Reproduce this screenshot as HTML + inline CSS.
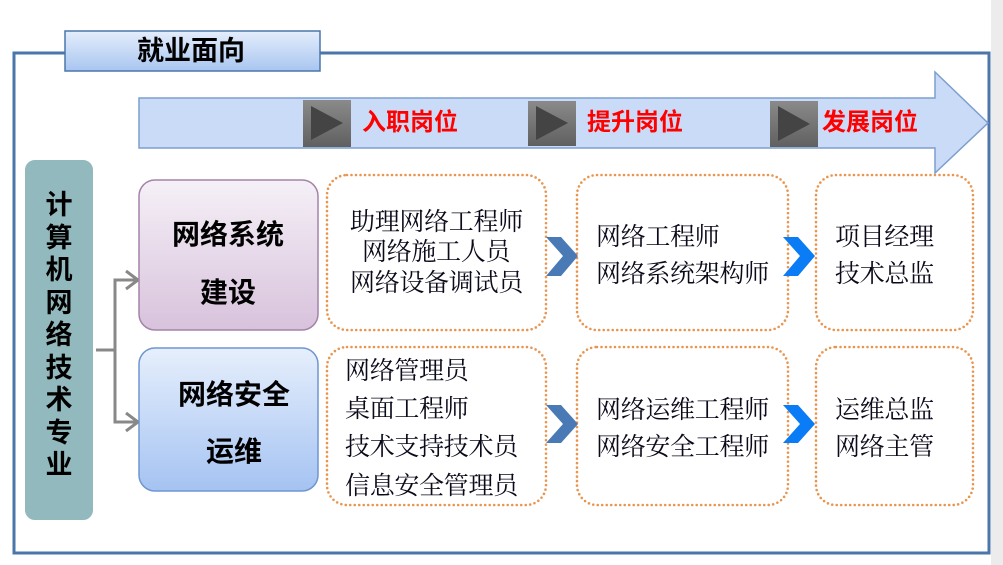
<!DOCTYPE html>
<html><head><meta charset="utf-8"><style>
body{margin:0;width:1003px;height:565px;overflow:hidden;background:#fff;position:relative;font-family:"Liberation Sans","Noto Sans CJK SC",sans-serif}
.a{position:absolute}
.t{position:absolute;white-space:nowrap;line-height:1}
.b{font-weight:bold;color:#000;font-family:"Liberation Sans","Noto Sans CJK SC",sans-serif}
.s{font-family:"Liberation Serif","Noto Serif CJK SC",serif;font-size:25px;color:#0a0a1a;letter-spacing:-0.3px}
.r{font-weight:bold;color:#f00;font-size:24px}
</style></head><body>
<div class="a" style="left:991px;top:0;width:12px;height:565px;background:#ececec"></div>
<svg class="a" style="left:0;top:0" width="1003" height="565">
<defs>
<linearGradient id="tg" x1="0" y1="0" x2="0" y2="1"><stop offset="0" stop-color="#e4eefc"/><stop offset="1" stop-color="#a9c5f0"/></linearGradient>
<linearGradient id="pg" x1="0" y1="0" x2="0" y2="1"><stop offset="0" stop-color="#f5f0f7"/><stop offset="1" stop-color="#d8c2dc"/></linearGradient>
<linearGradient id="bg" x1="0" y1="0" x2="0" y2="1"><stop offset="0" stop-color="#e6effc"/><stop offset="1" stop-color="#a5c3f2"/></linearGradient>
<linearGradient id="gg" x1="0" y1="0" x2="0" y2="1"><stop offset="0" stop-color="#8a8a8a"/><stop offset="1" stop-color="#606060"/></linearGradient>
</defs>
<rect x="14" y="53" width="975" height="500" fill="none" stroke="#4a76aa" stroke-width="3"/>
<rect x="65" y="31" width="255" height="40" fill="url(#tg)" stroke="#4a76aa" stroke-width="1.5"/>
<polygon points="139,98 935,98 935,72 988,123 935,173 935,148 139,148" fill="#c9dbf6" stroke="#7d9fcf" stroke-width="1.5"/>
<g>
<rect x="303" y="100" width="48" height="47" fill="url(#gg)"/><polygon points="311,106 343,123 311,140" fill="#444"/>
<rect x="528" y="101" width="48" height="45" fill="url(#gg)"/><polygon points="536,106 568,123 536,140" fill="#444"/>
<rect x="770" y="101" width="48" height="46" fill="url(#gg)"/><polygon points="778,106 810,124 778,141" fill="#444"/>
</g>
<rect x="23" y="158" width="72" height="364" rx="12" fill="#92b9bd" stroke="#fff" stroke-width="4"/>
<g stroke="#888" stroke-width="3" fill="none">
<path d="M96,350 H115 V280 H138 M115,350 V422 H138"/>
<path d="M126,271 L138,280 L126,289 M126,413 L138,422 L126,431"/>
</g>
<rect x="139" y="180" width="179" height="150" rx="16" fill="url(#pg)" stroke="#a384a8" stroke-width="1.5"/>
<rect x="139" y="348" width="179" height="143" rx="16" fill="url(#bg)" stroke="#6f96cf" stroke-width="1.5"/>
<g fill="none" stroke="#e8954f" stroke-width="2.6" stroke-dasharray="0 4.5" stroke-linecap="round">
<rect x="327" y="175" width="219" height="155" rx="20"/>
<rect x="577" y="175" width="211" height="155" rx="20"/>
<rect x="816" y="175" width="157" height="155" rx="20"/>
<rect x="327" y="347" width="219" height="158" rx="20"/>
<rect x="577" y="347" width="211" height="158" rx="20"/>
<rect x="816" y="347" width="157" height="158" rx="20"/>
</g>
<polygon points="546,237 561,237 578,256 561,276 546,276 563,256" fill="#4a7ab5"/>
<polygon points="783,237 798,237 815,256 798,276 783,276 800,256" fill="#0a7cf5"/>
<polygon points="546,405 561,405 578,424 561,443 546,443 563,424" fill="#4a7ab5"/>
<polygon points="783,405 798,405 815,424 798,443 783,443 800,424" fill="#0a7cf5"/>
</svg>
<div class="t b" style="left:137px;top:38px;font-size:27px">就业面向</div>
<div class="t r" style="left:362px;top:111px">入职岗位</div>
<div class="t r" style="left:587px;top:111px">提升岗位</div>
<div class="t r" style="left:822px;top:111px">发展岗位</div>
<div class="t b" style="left:44px;top:189px;font-size:27px;line-height:32.5px;width:30px;white-space:normal;text-align:center">计算机网络技术专业</div>
<div class="t b" style="left:172px;top:221px;font-size:28px">网络系统</div>
<div class="t b" style="left:200px;top:279px;font-size:28px">建设</div>
<div class="t b" style="left:178px;top:381px;font-size:28px">网络安全</div>
<div class="t b" style="left:206px;top:438px;font-size:28px">运维</div>
<div class="t s" style="left:350px;top:210px">助理网络工程师</div>
<div class="t s" style="left:362px;top:240px">网络施工人员</div>
<div class="t s" style="left:350px;top:271px">网络设备调试员</div>
<div class="t s" style="left:596px;top:225px">网络工程师</div>
<div class="t s" style="left:596px;top:262px">网络系统架构师</div>
<div class="t s" style="left:835px;top:225px">项目经理</div>
<div class="t s" style="left:835px;top:262px">技术总监</div>
<div class="t s" style="left:345px;top:359px">网络管理员</div>
<div class="t s" style="left:345px;top:397px">桌面工程师</div>
<div class="t s" style="left:345px;top:435px">技术支持技术员</div>
<div class="t s" style="left:345px;top:474px">信息安全管理员</div>
<div class="t s" style="left:596px;top:398px">网络运维工程师</div>
<div class="t s" style="left:596px;top:435px">网络安全工程师</div>
<div class="t s" style="left:835px;top:398px">运维总监</div>
<div class="t s" style="left:835px;top:435px">网络主管</div>
</body></html>
